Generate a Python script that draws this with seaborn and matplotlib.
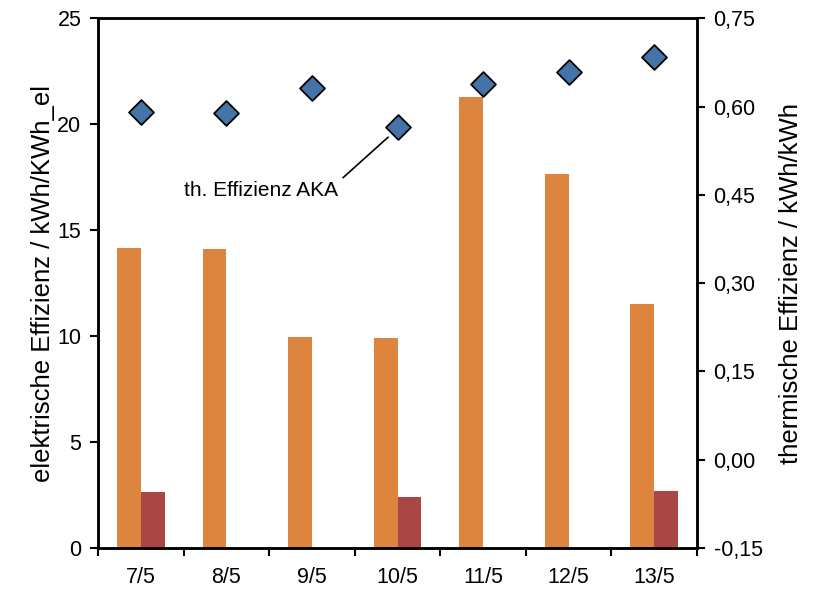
import matplotlib
import numpy as np
import pandas as pd
import matplotlib.pyplot as plt
import seaborn as sns

matplotlib.use('Agg')

tage = ["7/5", "8/5", "9/5", "10/5", "11/5", "12/5", "13/5"]
el_eff_a = [14.15, 14.1, 9.95, 9.9, 21.27, 17.64, 11.5]
el_eff_b = [2.64, np.nan, np.nan, 2.41, np.nan, np.nan, 2.7]
th_eff = [0.591, 0.589, 0.631, 0.565, 0.638, 0.659, 0.684]

sns.set_style("white")
plt.rcParams['font.family'] = ['Liberation Sans', 'DejaVu Sans']
plt.rcParams['text.color'] = 'black'
plt.rcParams['axes.labelcolor'] = 'black'
plt.rcParams['xtick.color'] = 'black'
plt.rcParams['ytick.color'] = 'black'

df = pd.DataFrame({
    "tag": tage * 2,
    "wert": el_eff_a + el_eff_b,
    "reihe": ["a"] * len(tage) + ["b"] * len(tage),
})
df_th = pd.DataFrame({"tag": tage, "th": th_eff})

fig, ax = plt.subplots(figsize=(8.18, 5.89), dpi=100)
fig.subplots_adjust(left=0.12, right=0.852, top=0.969, bottom=0.0696)

sns.barplot(data=df, x="tag", y="wert", hue="reihe", palette=["#DD853F", "#AA4644"],
            width=0.56, gap=0, saturation=1, legend=False, linewidth=0, ax=ax)
ax.set_ylim(0, 25)
ax.set_yticks([0, 5, 10, 15, 20, 25])
ax.set_xlim(-0.5, len(tage) - 0.5)
ax.set_xlabel("")
ax.set_ylabel("elektrische Effizienz / kWh/KWh_el", fontsize=18.5, labelpad=2)

# x ticks: labels at centers, tick marks at category boundaries
ax.set_xticks(range(len(tage)))
ax.set_xticklabels(tage, fontsize=15.5)
ax.set_xticks(np.arange(-0.5, len(tage)), minor=True)
ax.tick_params(axis='x', which='major', bottom=False, length=0, pad=14)
ax.tick_params(axis='x', which='minor', bottom=True, length=6, width=1.5, direction='out')
ax.tick_params(axis='y', left=True, labelsize=15.5, length=6, width=1.5, direction='out', pad=6)

ax2 = ax.twinx()
sns.scatterplot(data=df_th, x="tag", y="th", marker="D", s=160, color="#4674A8",
                edgecolor="black", linewidth=1.3, zorder=5, ax=ax2)
ax2.set_ylim(-0.15, 0.75)
ax2.set_yticks([-0.15, 0.0, 0.15, 0.30, 0.45, 0.60, 0.75])
ax2.set_yticklabels([f"{v:.2f}".replace(".", ",") for v in ax2.get_yticks()])
ax2.set_ylabel("thermische Effizienz / kWh/kWh", fontsize=18.5, labelpad=12)
ax2.tick_params(axis='y', right=True, labelsize=15.5, length=6, width=1.5, direction='out', pad=6)
ax2.set_xlim(-0.5, len(tage) - 0.5)

for a in (ax, ax2):
    for s in a.spines.values():
        s.set_linewidth(1.8)
        s.set_color("black")

ax2.annotate("th. Effizienz AKA", xy=(2.89, 0.548), xytext=(2.30, 0.458),
             ha="right", va="center", fontsize=15,
             arrowprops=dict(arrowstyle="-", color="black", lw=1.2,
                             relpos=(1.0, 0.9), shrinkA=2, shrinkB=0))

fig.savefig("out.png", dpi=100)
